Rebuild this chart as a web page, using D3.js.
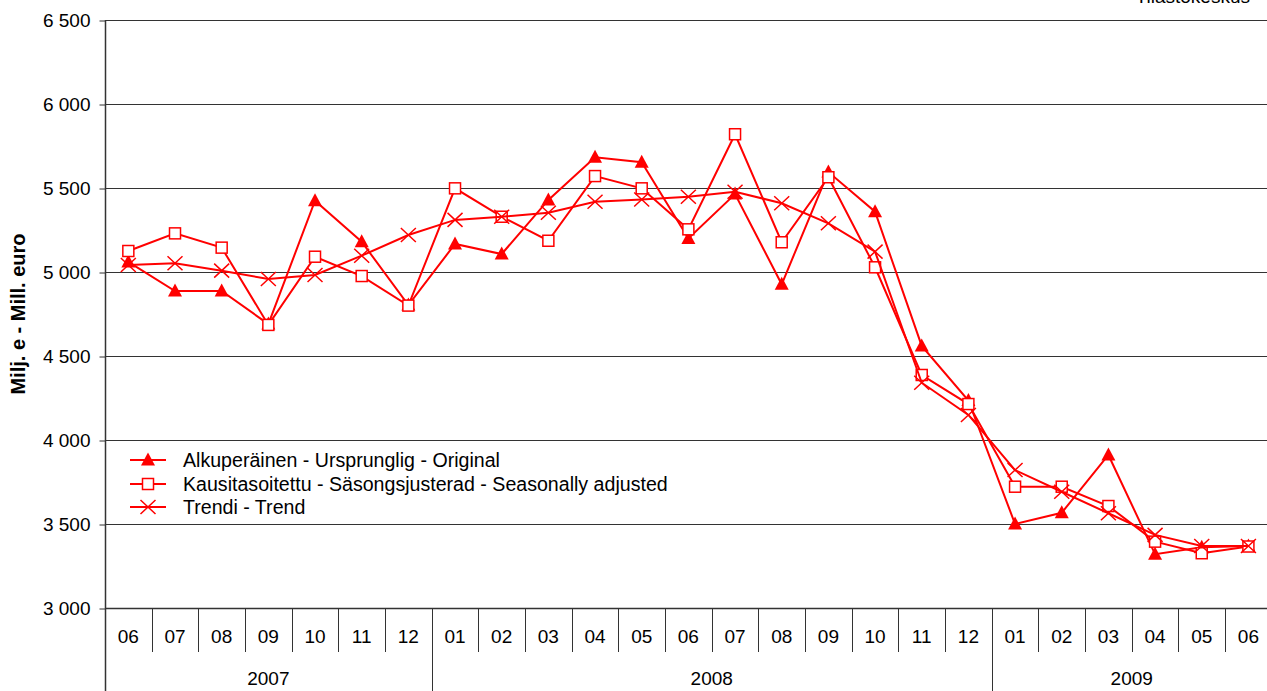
<!DOCTYPE html>
<html><head><meta charset="utf-8">
<script src="https://cdn.jsdelivr.net/npm/d3@7"></script>
<style>body{margin:0;background:#fff;} svg{display:block;} text{font-family:"Liberation Sans",Arial,sans-serif;}</style>
</head><body>
<svg id="chart" width="1267" height="691"></svg>
<script>
const months = ["06","07","08","09","10","11","12","01","02","03","04","05","06","07","08","09","10","11","12","01","02","03","04","05","06"];
const years = [{label:"2007", start:0, end:6},{label:"2008", start:7, end:18},{label:"2009", start:19, end:24}];
const original = [5060,4887,4887,4690,5424,5180,4803,5167,5107,5429,5683,5653,5200,5464,4927,5595,5359,4560,4235,3500,3567,3911,3320,3362,3369];
const seasonal = [5125,5230,5145,4685,5091,4976,4800,5498,5329,5186,5571,5498,5254,5820,5177,5564,5028,4387,4214,3722,3722,3607,3395,3326,3366];
const trend = [5042,5052,5008,4958,4982,5097,5220,5310,5329,5353,5418,5432,5448,5478,5409,5290,5121,4341,4149,3821,3692,3564,3435,3369,3369];
const yTicks = [3000,3500,4000,4500,5000,5500,6000,6500];
const seriesNames = ["Alkuperäinen - Ursprunglig - Original","Kausitasoitettu - Säsongsjusterad - Seasonally adjusted","Trendi - Trend"];

const svg = d3.select("#chart");
const mLeft = 105, mTop = 20, mBottom = 608, bw = 46.67;
const FS = 19;
const x = d3.scaleBand().domain(d3.range(months.length)).range([mLeft, mLeft + bw*months.length]).paddingInner(0).paddingOuter(0);
const cx = i => x(i) + x.bandwidth()/2;
const y = d3.scaleLinear().domain([3000,6500]).range([mBottom, mTop]);
const fmt = v => d3.format(",")(v).replace(",", " ");

// Tilastokeskus (cut off at top, as in the reference)
svg.append("text").attr("x",1250).attr("y",3).attr("text-anchor","end").attr("font-size",FS).attr("fill","#000").text("Tilastokeskus");

// gridlines
svg.append("g").selectAll("line").data(yTicks.filter(d=>d>3000)).join("line")
  .attr("x1",mLeft).attr("x2",1267).attr("y1",d=>Math.round(y(d))+0.5).attr("y2",d=>Math.round(y(d))+0.5)
  .attr("stroke","#333").attr("stroke-width",1);

// y axis
const yAxis = d3.axisLeft(y).tickValues(yTicks).tickFormat(fmt).tickSize(6).tickPadding(9);
const gy = svg.append("g").attr("transform",`translate(${mLeft+0.5},0.5)`).call(yAxis);
gy.select(".domain").remove();
gy.selectAll(".tick line").attr("stroke","#333");
gy.selectAll(".tick text").attr("font-size",FS).attr("fill","#000").attr("font-family","'Liberation Sans',Arial,sans-serif");
svg.append("line").attr("x1",mLeft+0.5).attr("x2",mLeft+0.5).attr("y1",mTop).attr("y2",691).attr("stroke","#333").attr("stroke-width",1.5);

// y title
svg.append("text").attr("transform",`translate(25,${(mTop+mBottom)/2}) rotate(-90)`).attr("text-anchor","middle")
  .attr("font-size",20).attr("font-weight","bold").text("Milj. e - Mill. euro");

// x axis
svg.append("line").attr("x1",mLeft).attr("x2",1267).attr("y1",mBottom+0.5).attr("y2",mBottom+0.5).attr("stroke","#333").attr("stroke-width",1.5);
const yearStarts = years.map(d=>d.start);
svg.append("g").selectAll("line").data(d3.range(1,months.length+1)).join("line")
  .attr("x1",i=>Math.round(mLeft+i*bw)+0.5).attr("x2",i=>Math.round(mLeft+i*bw)+0.5)
  .attr("y1",mBottom).attr("y2",i=>yearStarts.includes(i)?691:652)
  .attr("stroke","#333").attr("stroke-width",1);
svg.append("g").selectAll("text").data(months).join("text")
  .attr("x",(d,i)=>cx(i)).attr("y",643).attr("text-anchor","middle").attr("font-size",FS).text(d=>d);
svg.append("g").selectAll("text").data(years).join("text")
  .attr("x",d=>(x(d.start)+x(d.end)+x.bandwidth())/2).attr("y",685).attr("text-anchor","middle").attr("font-size",FS).text(d=>d.label);

const red = "#ff0000";
const line = d3.line().x((d,i)=>cx(i)).y(d=>y(d));
function drawMarker(g, type, px, py){
  if(type==="tri"){
    g.append("path").attr("d",`M${px},${py-7.5}L${px+7},${py+5.5}L${px-7},${py+5.5}Z`).attr("fill",red);
  } else if(type==="sq"){
    g.append("rect").attr("x",px-5.5).attr("y",py-5.5).attr("width",11).attr("height",11).attr("fill","#fff").attr("stroke",red).attr("stroke-width",1.5);
  } else {
    g.append("path").attr("d",`M${px-7.5},${py-7}L${px+7.5},${py+7}M${px+7.5},${py-7}L${px-7.5},${py+7}`).attr("stroke",red).attr("stroke-width",1.5).attr("fill","none");
  }
}
const series = [{data:original,type:"tri"},{data:seasonal,type:"sq"},{data:trend,type:"x"}];
series.forEach(s=>{
  const g = svg.append("g");
  g.append("path").attr("d",line(s.data)).attr("fill","none").attr("stroke",red).attr("stroke-width",2);
  s.data.forEach((v,i)=>drawMarker(g,s.type,cx(i),y(v)));
});

// legend
const ly = [460,484,507];
series.forEach((s,k)=>{
  const g = svg.append("g");
  g.append("line").attr("x1",130).attr("x2",166).attr("y1",ly[k]).attr("y2",ly[k]).attr("stroke",red).attr("stroke-width",2);
  drawMarker(g,s.type,148,ly[k]);
  g.append("text").attr("x",183).attr("y",ly[k]+7).attr("font-size",19.6).text(seriesNames[k]);
});
</script>
</body></html>
